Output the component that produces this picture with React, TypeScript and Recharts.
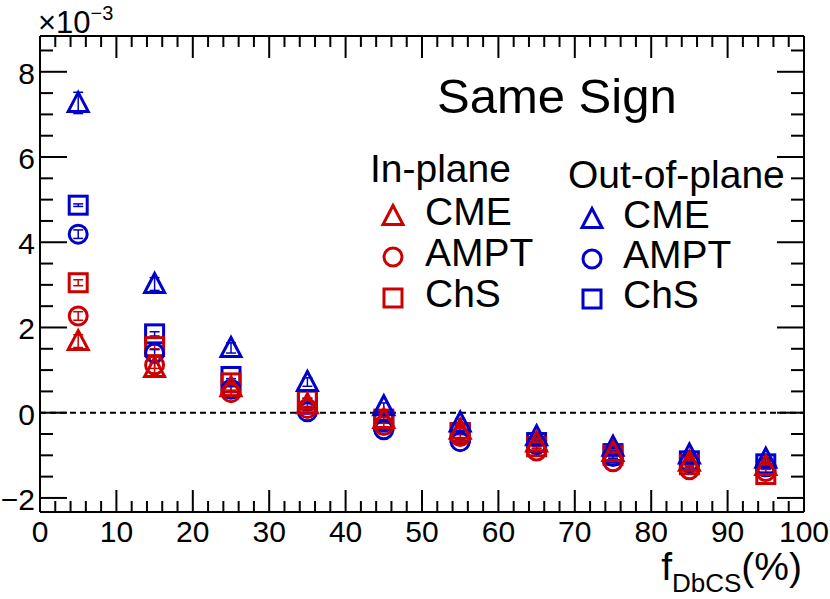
import { ErrorBar, ReferenceLine, Scatter, ScatterChart, XAxis, YAxis } from "recharts";

// f_DbCS bin centres (%)
const fDbCS = [5, 15, 25, 35, 45, 55, 65, 75, 85, 95];

// values in units of 1e-3
const inCME = [1.68, 1.05, 0.6, 0.2, -0.15, -0.4, -0.7, -0.92, -1.15, -1.25];
const inAMPT = [2.27, 1.12, 0.47, 0.1, -0.3, -0.56, -0.9, -1.15, -1.34, -1.38];
const inChS = [3.05, 1.55, 0.7, 0.3, -0.15, -0.47, -0.8, -1.0, -1.22, -1.45];
const outCME = [7.27, 3.02, 1.52, 0.72, 0.15, -0.23, -0.55, -0.8, -0.98, -1.08];
const outAMPT = [4.19, 1.4, 0.55, 0.02, -0.4, -0.68, -0.75, -1.03, -1.17, -1.27];
const outChS = [4.87, 1.85, 0.85, 0.3, -0.2, -0.47, -0.7, -0.96, -1.13, -1.2];

const inCMEErr = [0.15, 0.12, 0.1, 0.08, 0.08, 0.08, 0.08, 0.08, 0.08, 0.08];
const inAMPTErr = [0.1, 0.08, 0.06, 0.05, 0.05, 0.05, 0.05, 0.05, 0.05, 0.05];
const inChSErr = [0.07, 0.05, 0.05, 0.04, 0.04, 0.04, 0.04, 0.04, 0.04, 0.04];
const outCMEErr = [0.25, 0.15, 0.12, 0.1, 0.08, 0.08, 0.08, 0.08, 0.08, 0.08];
const outAMPTErr = [0.1, 0.08, 0.06, 0.05, 0.05, 0.05, 0.05, 0.05, 0.05, 0.05];
const outChSErr = [0.03, 0.05, 0.05, 0.04, 0.04, 0.04, 0.04, 0.04, 0.04, 0.04];

const xTicks = [0, 2, 4, 6, 8, 10, 12, 14, 16, 18, 20, 22, 24, 26, 28, 30, 32, 34, 36, 38, 40, 42, 44, 46, 48, 50, 52, 54, 56, 58, 60, 62, 64, 66, 68, 70, 72, 74, 76, 78, 80, 82, 84, 86, 88, 90, 92, 94, 96, 98, 100];
const yTicks = [-2, -1.5, -1, -0.5, 0, 0.5, 1, 1.5, 2, 2.5, 3, 3.5, 4, 4.5, 5, 5.5, 6, 6.5, 7, 7.5, 8, 8.5];

const RED = "#cc0000";
const BLUE = "#0000cc";
const FONT = "'Liberation Sans', Arial, Helvetica, sans-serif";

const toPoints = (vals: number[], errs: number[]) =>
  fDbCS.map((x, i) => ({ x, y: vals[i], e: errs[i] }));

type Kind = "triangle" | "circle" | "square";

const drawMarker = (kind: Kind, color: string, cx: number, cy: number) => {
  if (kind === "triangle") {
    const pts = `${cx - 10},${cy + 8.5} ${cx + 10},${cy + 8.5} ${cx},${cy - 10.5}`;
    return <polygon points={pts} fill="none" stroke={color} strokeWidth={3} />;
  }
  if (kind === "circle") {
    return <circle cx={cx} cy={cy} r={9} fill="none" stroke={color} strokeWidth={3} />;
  }
  return <rect x={cx - 9} y={cy - 9} width={18} height={18} fill="none" stroke={color} strokeWidth={3} />;
};

const markerShape = (kind: Kind, color: string) => (props: any) => {
  const { cx, cy } = props;
  if (cx == null || cy == null) return <g />;
  return <g>{drawMarker(kind, color, cx, cy)}</g>;
};

const XTickBottom = (props: any) => {
  const { x, y, payload } = props;
  const v = payload.value;
  const major = v % 10 === 0;
  return (
    <g>
      <line x1={x} x2={x} y1={y} y2={y - (major ? 22 : 11)} stroke="#000" strokeWidth={2} />
      {major && (
        <text x={x} y={y + 30} textAnchor="middle" fontSize={30} fontFamily={FONT} fill="#000">
          {v}
        </text>
      )}
    </g>
  );
};

const XTickTop = (props: any) => {
  const { x, y, payload } = props;
  const major = payload.value % 10 === 0;
  return <line x1={x} x2={x} y1={y} y2={y + (major ? 22 : 11)} stroke="#000" strokeWidth={2} />;
};

const YTickLeft = (props: any) => {
  const { x, y, payload } = props;
  const v = payload.value;
  const major = v % 2 === 0;
  const label = v < 0 ? `\u2212${Math.abs(v)}` : `${v}`;
  return (
    <g>
      <line x1={x} x2={x + (major ? 27 : 13)} y1={y} y2={y} stroke="#000" strokeWidth={2} />
      {major && (
        <text x={x - 5} y={y + 12} textAnchor="end" fontSize={30} fontFamily={FONT} fill="#000">
          {label}
        </text>
      )}
    </g>
  );
};

const YTickRight = (props: any) => {
  const { x, y, payload } = props;
  const major = payload.value % 2 === 0;
  return <line x1={x} x2={x - (major ? 27 : 13)} y1={y} y2={y} stroke="#000" strokeWidth={2} />;
};

const series = [
  { name: "out ChS", data: toPoints(outChS, outChSErr), kind: "square" as Kind, color: BLUE },
  { name: "in ChS", data: toPoints(inChS, inChSErr), kind: "square" as Kind, color: RED },
  { name: "out AMPT", data: toPoints(outAMPT, outAMPTErr), kind: "circle" as Kind, color: BLUE },
  { name: "in AMPT", data: toPoints(inAMPT, inAMPTErr), kind: "circle" as Kind, color: RED },
  { name: "out CME", data: toPoints(outCME, outCMEErr), kind: "triangle" as Kind, color: BLUE },
  { name: "in CME", data: toPoints(inCME, inCMEErr), kind: "triangle" as Kind, color: RED },
];

const legendRows: { label: string; kind: Kind }[] = [
  { label: "CME", kind: "triangle" },
  { label: "AMPT", kind: "circle" },
  { label: "ChS", kind: "square" },
];

const axisLine = { stroke: "#000", strokeWidth: 2 };

const App = () => {
  return (
    <div style={{ position: "absolute", left: 0, top: 0, width: 830, height: 599, background: "#fff" }}>
      <ScatterChart width={830} height={599} margin={{ top: 26, right: 16, bottom: 47, left: 0 }}>
        <XAxis
          type="number"
          dataKey="x"
          domain={[0, 100]}
          ticks={xTicks}
          interval={0}
          allowDataOverflow
          height={40}
          tickSize={0}
          tickMargin={0}
          tickLine={false}
          tick={XTickBottom}
          axisLine={axisLine}
        />
        <XAxis
          xAxisId="top"
          orientation="top"
          type="number"
          dataKey="x"
          domain={[0, 100]}
          ticks={xTicks}
          interval={0}
          allowDataOverflow
          height={10}
          tickSize={0}
          tickMargin={0}
          tickLine={false}
          tick={XTickTop}
          axisLine={axisLine}
        />
        <YAxis
          type="number"
          dataKey="y"
          domain={[-2.33, 8.84]}
          ticks={yTicks}
          interval={0}
          allowDataOverflow
          width={40}
          tickSize={0}
          tickMargin={0}
          tickLine={false}
          tick={YTickLeft}
          axisLine={axisLine}
        />
        <YAxis
          yAxisId="right"
          orientation="right"
          type="number"
          dataKey="y"
          domain={[-2.33, 8.84]}
          ticks={yTicks}
          interval={0}
          allowDataOverflow
          width={10}
          tickSize={0}
          tickMargin={0}
          tickLine={false}
          tick={YTickRight}
          axisLine={axisLine}
        />
        <ReferenceLine y={0} stroke="#000" strokeWidth={2} strokeDasharray="6 4" />
        {series.map((s) => (
          <Scatter
            key={s.name}
            name={s.name}
            data={s.data}
            shape={markerShape(s.kind, s.color)}
            isAnimationActive={false}
          >
            <ErrorBar dataKey="e" direction="y" width={5} stroke={s.color} strokeWidth={1.5} />
          </Scatter>
        ))}
      </ScatterChart>
      <svg
        width={830}
        height={599}
        style={{ position: "absolute", left: 0, top: 0, pointerEvents: "none" }}
        fontFamily={FONT}
      >
        <text x={38} y={33} fontSize={31} fill="#000">
          ×10
          <tspan fontSize={20} dy={-13}>−3</tspan>
        </text>
        <text x={437} y={113} fontSize={49} fill="#000">Same Sign</text>
        <text x={370} y={182} fontSize={39} fill="#000">In-plane</text>
        <text x={568} y={188} fontSize={39} fill="#000">Out-of-plane</text>
        {legendRows.map((r, i) => (
          <g key={"in" + r.label}>
            {drawMarker(r.kind, RED, 393, 216 + i * 41)}
            <text x={425} y={225 + i * 41} fontSize={39} fill="#000">{r.label}</text>
          </g>
        ))}
        {legendRows.map((r, i) => (
          <g key={"out" + r.label}>
            {drawMarker(r.kind, BLUE, 592, 219 + i * 40)}
            <text x={623} y={228 + i * 40} fontSize={39} fill="#000">{r.label}</text>
          </g>
        ))}
        <text x={802} y={580} textAnchor="end" fontSize={39} fill="#000">
          f<tspan fontSize={26} dy={12}>DbCS</tspan>
          <tspan dy={-12}>(%)</tspan>
        </text>
      </svg>
    </div>
  );
};

export default App;
